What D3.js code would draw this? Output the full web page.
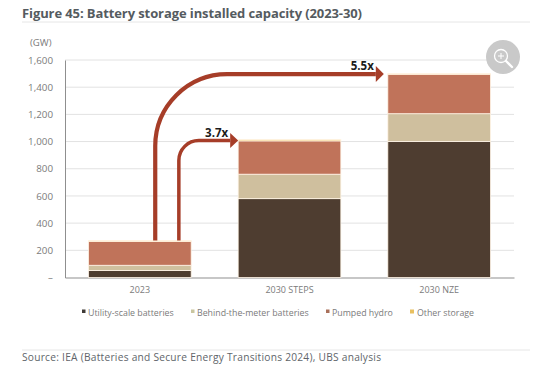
<!DOCTYPE html>
<html><head><meta charset="utf-8">
<script src="https://cdn.jsdelivr.net/npm/d3@7"></script>
<style>html,body{margin:0;padding:0;background:#fff}svg{display:block}text{font-family:"Open Sans","Noto Sans",sans-serif}</style>
</head><body><div id="c"></div>
<script>
const categories=["2023","2030 STEPS","2030 NZE"];
const seriesNames=["Utility-scale batteries","Behind-the-meter batteries","Pumped hydro","Other storage"];
const utility=[52,580,1000];
const behind=[38,180,205];
const pumped=[176,245,290];
const other=[6,10,5];
const seriesColors=["#4e3d30","#cfbf9e","#c0735a","#f2cd78"];
const yTicks=[0,200,400,600,800,1000,1200,1400,1600];
const multiples=[{label:"3.7x",to:1},{label:"5.5x",to:2}];

const W=560,H=381;
const svg=d3.select("#c").append("svg").attr("width",W).attr("height",H);
const y=d3.scaleLinear().domain([0,1600]).range([277.5,60]);
const x=d3.scaleBand().domain(categories).range([65,514]).paddingInner(0.314).paddingOuter(0.157);
const txt="#7b7b7b";

// title
svg.append("text").attr("x",22).attr("y",17.5).attr("font-size",13).attr("font-weight",700).attr("fill","#555b60")
 .attr("textLength",340).text("Figure 45: Battery storage installed capacity (2023-30)");
svg.append("line").attr("x1",22).attr("x2",530).attr("y1",22).attr("y2",22).attr("stroke","#e6e6e6");
svg.append("text").attr("x",30).attr("y",45.5).attr("font-size",9.6).attr("fill",txt).text("(GW)");

// axes
const gy=svg.append("g").attr("transform","translate(65,0)")
 .call(d3.axisLeft(y).tickValues(yTicks).tickSize(0).tickPadding(12).tickFormat(d=>d===0?"–":d3.format(",")(d)));
gy.select(".domain").attr("stroke","#8f8f8f").attr("stroke-width",1);
gy.selectAll("text").attr("font-size",9.8).attr("fill",txt);
svg.insert("g","g").selectAll("line").data(yTicks.filter(d=>d>0)).join("line")
 .attr("x1",65).attr("x2",514).attr("y1",d=>y(d)).attr("y2",d=>y(d)).attr("stroke","#e2e2e2").attr("stroke-width",1);
const gx=svg.append("g").attr("transform",`translate(0,${y(0)})`)
 .call(d3.axisBottom(x).tickSize(0).tickPadding(9));
gx.select(".domain").attr("stroke","#8f8f8f").attr("stroke-width",1);
gx.selectAll("text").attr("font-size",9).attr("fill",txt);

// stacked bars
const rows=categories.map((c,i)=>({c,s0:utility[i],s1:behind[i],s2:pumped[i],s3:other[i]}));
const stack=d3.stack().keys(["s0","s1","s2","s3"])(rows);
svg.append("g").selectAll("g").data(stack).join("g").attr("fill",(d,i)=>seriesColors[i])
 .selectAll("rect").data(d=>d).join("rect")
 .attr("x",d=>x(d.data.c)).attr("width",x.bandwidth())
 .attr("y",d=>y(d[1])).attr("height",d=>y(d[0])-y(d[1]))
 .attr("stroke","#fff4e6").attr("stroke-width",0.8);

// growth arrows, anchored on the scales
const totals=categories.map((c,i)=>utility[i]+behind[i]+pumped[i]+other[i]);
const base=y(totals[0]);
const arrowCol="#a63d28";
[{m:multiples[0],sx:x(categories[0])+x.bandwidth()*0.88,r:20,w:3.5,hl:8,hh:7.5},
 {m:multiples[1],sx:x(categories[0])+x.bandwidth()*0.65,r:72,w:4.2,hl:8,hh:8}].forEach(a=>{
  const ty=y(totals[a.m.to])+ (a.m.to===1?1:0.5);
  const tip=x(categories[a.m.to])-(a.m.to===1?0:4);
  const p=d3.path();
  p.moveTo(a.sx,base);
  p.lineTo(a.sx,ty+a.r);
  p.arcTo(a.sx,ty,a.sx+a.r,ty,a.r);
  p.lineTo(tip-a.hl,ty);
  svg.append("path").attr("d",p.toString()).attr("fill","none").attr("stroke",arrowCol).attr("stroke-width",a.w);
  svg.append("path").attr("d",d3.line()([[tip-a.hl,ty-a.hh],[tip,ty],[tip-a.hl,ty+a.hh]])+"Z").attr("fill",arrowCol);
  svg.append("text").attr("x",tip-a.hl-2).attr("y",ty-4).attr("text-anchor","end")
   .attr("font-size",11.5).attr("font-weight",700).attr("fill","#1c1c1c").text(a.m.label);
});

// legend
const lx=[82,191,326,410];
const lg=svg.append("g").selectAll("g").data(seriesNames).join("g")
 .attr("transform",(d,i)=>`translate(${lx[i]},313)`);
lg.append("rect").attr("y",-3.5).attr("width",(d,i)=>i===3?4:3.5).attr("height",(d,i)=>i===3?4:3.5)
 .attr("fill",(d,i)=>["#3f3a36","#c9c6a0","#a9705a","#e8c060"][i]);
lg.append("text").attr("x",(d,i)=>i===3?7:6).attr("y",3).attr("font-size",8.8).attr("fill",txt).text(d=>d);

// source
svg.append("line").attr("x1",22).attr("x2",530).attr("y1",350).attr("y2",350).attr("stroke","#e6e6e6");
svg.append("text").attr("x",22).attr("y",361).attr("font-size",10.2).attr("fill","#60656a")
 .attr("textLength",359).text("Source: IEA (Batteries and Secure Energy Transitions 2024), UBS analysis");

// zoom button
const z=svg.append("g").attr("transform","translate(503,57)");
z.append("circle").attr("r",17).attr("fill","#c9c9c9");
z.append("circle").attr("cx",-2).attr("cy",-1).attr("r",6.5).attr("fill","none").attr("stroke","#fff").attr("stroke-width",1.3);
z.append("path").attr("d","M3,4L9,10").attr("stroke","#fff").attr("stroke-width",2.4).attr("stroke-linecap","round");
z.append("path").attr("d","M-5,-1H1M-2,-4V2").attr("stroke","#fff").attr("stroke-width",1);
</script></body></html>
